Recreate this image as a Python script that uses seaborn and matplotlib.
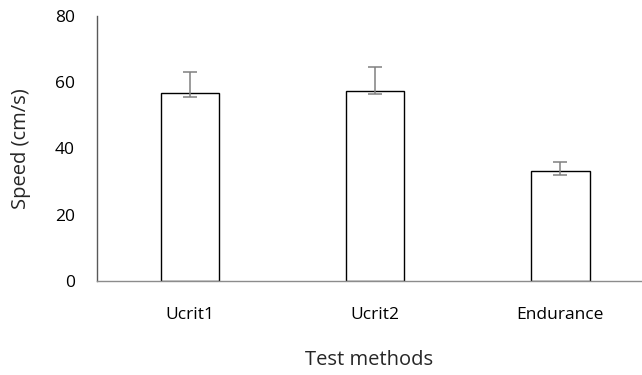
import matplotlib
matplotlib.use("Agg")
import matplotlib.pyplot as plt
import seaborn as sns
import numpy as np

categories = ["Ucrit1", "Ucrit2", "Endurance"]
speed = [56.7, 57.4, 33.3]
err_low = [55.5, 56.4, 32.0]
err_high = [63.2, 64.7, 35.8]
yticks = [0, 20, 40, 60, 80]

sns.set_style("white")
plt.rcParams['font.family'] = ['Open Sans', 'DejaVu Sans']

fig = plt.figure(figsize=(6.42, 3.75), dpi=100)
ax = fig.add_axes([0.151, 0.2507, 0.849, 0.7066])

sns.barplot(x=categories, y=speed, color="white", edgecolor="black",
            linewidth=1.0, width=0.314, errorbar=None, ax=ax)

x = np.arange(len(categories))
sp = np.array(speed)
yerr = np.vstack([sp - np.array(err_low), np.array(err_high) - sp])
ax.errorbar(x, sp, yerr=yerr, fmt="none", ecolor="#808080", elinewidth=1.1,
            capsize=5, capthick=1.1)

ax.set_ylim(0, 80)
ax.set_xlim(-0.5, 2.44)
ax.set_yticks(yticks)
ax.set_yticklabels([str(v) for v in yticks])
ax.tick_params(axis="both", length=0, labelsize=12.5, colors="black")
ax.tick_params(axis="y", pad=16)
ax.tick_params(axis="x", pad=19)
ax.set_ylabel("Speed (cm/s)", fontsize=14.5, labelpad=17)
ax.set_xlabel("Test methods", fontsize=14.5, labelpad=19)

for s in ["top", "right"]:
    ax.spines[s].set_visible(False)
ax.spines["left"].set_color("#595959")
ax.spines["bottom"].set_color("#8c8c8c")
ax.spines["left"].set_linewidth(1.0)
ax.spines["bottom"].set_linewidth(1.0)

fig.savefig("out.png", dpi=100)
